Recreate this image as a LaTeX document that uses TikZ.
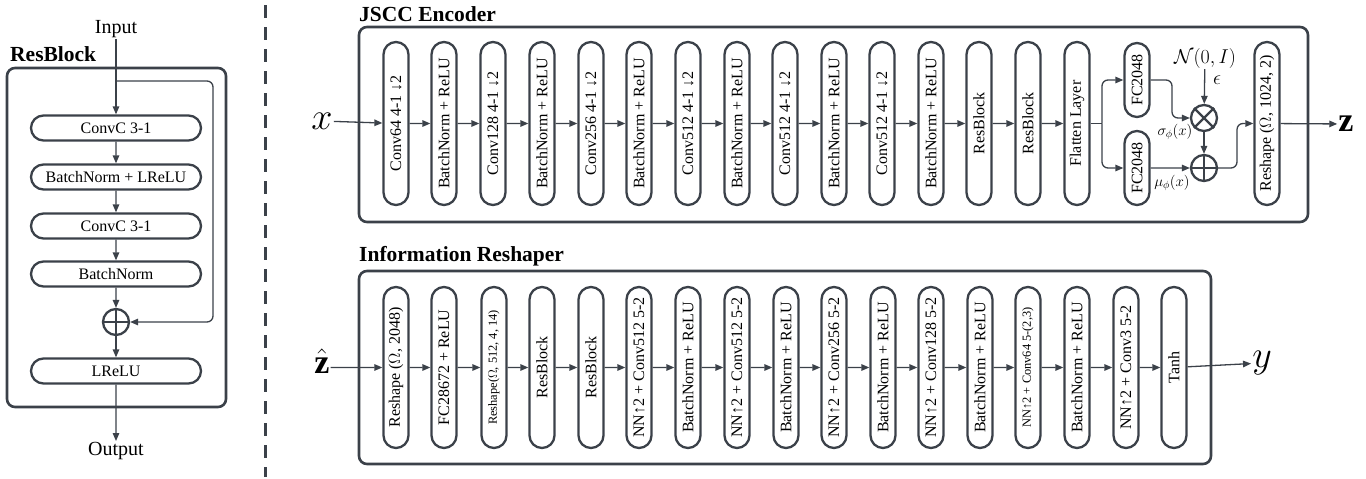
\documentclass[tikz,border=0pt]{standalone}
\usepackage{fix-cm}
\usepackage{fontspec}
\setmainfont{Liberation Serif}
\usetikzlibrary{arrows.meta,shapes.misc}
\definecolor{ln}{HTML}{3B4149}
\newcommand{\dnar}{{\char"2193\relax}}
\newcommand{\upar}{{\char"2191\relax}}
\newcommand{\smf}{\fontsize{12.4}{14}\selectfont}
\begin{document}
\begin{tikzpicture}[x=1pt,y=-1pt,
  pill/.style={draw=ln, line width=2.3pt, rounded rectangle, rotate=90, minimum height=25pt, inner sep=0pt, font=\fontsize{16}{18}\selectfont, text=black},
  epill/.style={pill, minimum width=163pt},
  rpill/.style={pill, minimum width=161pt},
  hpill/.style={draw=ln, line width=2.3pt, rounded rectangle, minimum width=170pt, minimum height=25pt, inner sep=0pt, font=\fontsize{16}{18}\selectfont, text=black},
  frame/.style={draw=ln, line width=2.6pt, rounded corners=8pt},
  arr/.style={draw=ln, line width=1.3pt, -{Triangle[length=8pt,width=6.5pt]}},
  plain/.style={draw=ln, line width=1.3pt},
  opc/.style={circle, draw=ln, line width=2.3pt, minimum size=26pt, inner sep=0pt},
  title/.style={font=\bfseries\fontsize{21.5}{24}\selectfont, anchor=west, inner sep=0pt},
  io/.style={font=\fontsize{20}{22}\selectfont, inner sep=1pt},
  big/.style={font=\fontsize{38}{38}\selectfont, inner sep=1pt},
  bz/.style={font=\bfseries\fontsize{34}{34}\selectfont, inner sep=1pt}
]
\useasboundingbox (0,0) rectangle (1366,479);

% ---------------- ResBlock ----------------
\draw[frame] (7,68) rectangle (226,407);
\node[title] (rbt) at (10,54) {ResBlock};
\node[io] (inp) at (116,29) {Input};
\node[hpill] (c1) at (116,128) {ConvC 3-1};
\node[hpill] (c2) at (116,177) {BatchNorm + LReLU};
\node[hpill] (c3) at (116,226) {ConvC 3-1};
\node[hpill] (c4) at (116,274) {BatchNorm};
\node[opc] (pl) at (116,322) {};
\draw[ln, line width=2.3pt] (pl.north) -- (pl.south) (pl.west) -- (pl.east);
\node[hpill] (c5) at (116,371) {LReLU};
\node[io] (out) at (116,451) {Output};
\draw[arr] (inp) -- (c1);
\draw[arr] (c1) -- (c2);
\draw[arr] (c2) -- (c3);
\draw[arr] (c3) -- (c4);
\draw[arr] (c4) -- (pl);
\draw[arr] (pl) -- (c5);
\draw[arr] (c5) -- (out);
\coordinate (sk) at (116,81);
\coordinate (skc) at (213,322);
\draw[arr, rounded corners=6pt] (sk) -| (skc) -- (pl);

% dashed separator
\draw[ln, line width=3pt, dash pattern=on 13pt off 9pt] (265,5) -- (265,477);

% ---------------- JSCC Encoder ----------------
\draw[frame] (359,27) rectangle (1308,222);
\node[title] (et) at (359,14) {JSCC Encoder};
\foreach \x/\t [count=\i] in {
  396/{Conv64 4-1 \dnar2},
  444/{BatchNorm + ReLU},
  493/{Conv128 4-1 \dnar2},
  542/{BatchNorm + ReLU},
  591/{Conv256 4-1 \dnar2},
  639/{BatchNorm + ReLU},
  688/{Conv512 4-1 \dnar2},
  737/{BatchNorm + ReLU},
  785/{Conv512 4-1 \dnar2},
  834/{BatchNorm + ReLU},
  882/{Conv512 4-1 \dnar2},
  931/{BatchNorm + ReLU},
  979/{ResBlock},
  1028/{ResBlock},
  1077/{Flatten Layer}}
  \node[epill] (e\i) at (\x,123.5) {\t};
\foreach \i [evaluate=\i as \j using int(\i+1)] in {1,...,14}
  \draw[arr] (e\i) -- (e\j);
\node[big] (xl) at (322,121) {$x$};
\draw[arr] (xl) -- (e1);

\node[pill, minimum width=74pt] (fa) at (1137,80) {FC2048};
\node[pill, minimum width=74pt] (fb) at (1137,168) {FC2048};
\coordinate (br) at (1102,123.5);
\draw[plain] (e15) -- (br);
\draw[arr, rounded corners=6pt] (br) |- (fa);
\draw[arr, rounded corners=6pt] (br) |- (fb);

\node[opc] (ot) at (1204,118) {};
\draw[ln, line width=2.3pt] (ot.north west) -- (ot.south east) (ot.north east) -- (ot.south west);
\node[opc] (op) at (1204,168) {};
\draw[ln, line width=2.3pt] (op.north) -- (op.south) (op.west) -- (op.east);

\node[io] (nrm) at (1205,58) {$\mathcal{N}(0,I)$};
\node[font=\fontsize{20}{20}\selectfont] (eps) at (1217,80) {$\epsilon$};
\draw[arr] (nrm) -- (ot);
\coordinate (fac) at (1172,118);
\draw[arr, rounded corners=6pt] (fa) -| (fac) -- (ot);
\draw[arr] (fb) -- (op);
\draw[arr] (ot) -- (op);
\node[font=\fontsize{15}{15}\selectfont] (sig) at (1175,132) {$\sigma_\phi(x)$};
\node[font=\fontsize{15}{15}\selectfont] (mu) at (1172,183) {$\mu_\phi(x)$};

\node[epill] (rs) at (1267,123.5) {Reshape ($\Omega$, 1024, 2)};
\coordinate (opc) at (1237,123.5);
\draw[arr, rounded corners=6pt] (op) -| (opc) -- (rs);
\node[bz] (zl) at (1346,124) {z};
\draw[arr] (rs) -- (zl);

% ---------------- Information Reshaper ----------------
\draw[frame] (359,271) rectangle (1211,464);
\node[title] (rt) at (359,256) {Information Reshaper};
\foreach \x/\t [count=\i] in {
  396/{Reshape ($\Omega$, 2048)},
  444/{FC28672 + ReLU},
  494/{\smf Reshape($\Omega$, 512, 4, 14)},
  542/{ResBlock},
  591/{ResBlock},
  639/{NN\upar2 + Conv512 5-2},
  688/{BatchNorm + ReLU},
  737/{NN\upar2 + Conv512 5-2},
  786/{BatchNorm + ReLU},
  834/{NN\upar2 + Conv256 5-2},
  883/{BatchNorm + ReLU},
  931/{NN\upar2 + Conv128 5-2},
  980/{BatchNorm + ReLU},
  1028/{\smf NN\upar2 + Conv64 5-(2,3)},
  1077/{BatchNorm + ReLU},
  1126/{NN\upar2 + Conv3 5-2},
  1174/{Tanh}}
  \node[rpill] (r\i) at (\x,367.5) {\t};
\foreach \i [evaluate=\i as \j using int(\i+1)] in {1,...,16}
  \draw[arr] (r\i) -- (r\j);
\node[bz] (zh) at (322,361) {$\hat{\hbox{\bfseries z}}$};
\draw[arr] (zh.south east |- r1) -- (r1);
\node[big] (yl) at (1262,363) {$y$};
\draw[arr] (r17) -- (yl);
\end{tikzpicture}
\end{document}
